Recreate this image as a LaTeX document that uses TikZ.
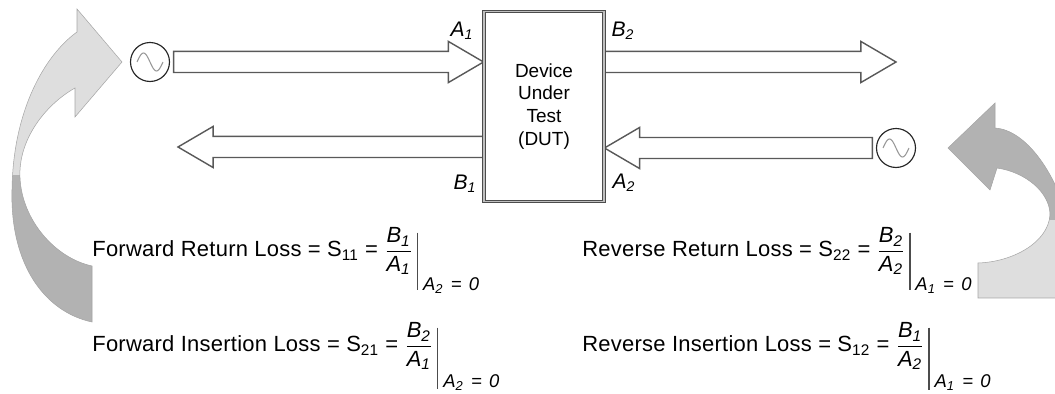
\documentclass[tikz,border=0pt]{standalone}
\usepackage{amsmath}
\usepackage{fontspec}
\setmainfont{Liberation Sans}
\newfontfamily\lossfont{Liberation Sans}[LetterSpace=1.2]
\usetikzlibrary{positioning, calc}
\tikzset{
    dut/.style={draw=black!70, double=black!25, double distance=0.7pt, line width=0.55pt, fill=white, minimum width=2.4cm, minimum height=3.8cm, align=center, font=\fontsize{10.8}{13}\selectfont}, % the device box
    source/.style={circle, draw=black!85, line width=0.65pt, fill=white, minimum size=0.78cm, inner sep=0pt}, % the two generators
    wave/.style={draw=gray!80, line width=0.6pt},
    fatarrow/.style={draw=black!65, line width=0.8pt, fill=white, line join=miter},
    swinglight/.style={fill=black!13},
    swingdark/.style={fill=black!30},
    swingedge/.style={draw=black!35, line width=0.3pt},
    port/.style={font=\fontsize{12}{14}\selectfont\itshape, inner sep=0pt},
    formula/.style={font=\lossfont\fontsize{12.5}{14}\selectfont, inner sep=0pt, anchor=base west},
    cond/.style={font=\fontsize{10.5}{12}\selectfont\itshape, inner sep=0pt, anchor=west},
    evalbar/.style={draw=black!70, line width=0.9pt}
}
\newcommand{\sig}[2]{\mbox{\rmfamily\itshape #1\textsubscript{#2}}}
\newcommand{\iseq}{\hspace{0.4em}=\hspace{0.4em}}
% wide hollow arrow, horizontal, tail at #1 and tip at #2
\newcommand{\bigarrow}[2]{%
    \draw[fatarrow] let \p1=(#1), \p2=(#2), \p3=($(\x2,\y2)!20pt!(\x1,\y1)$) in
        (\x1,{\y1+6pt}) -- (\x3,{\y1+6pt}) -- (\x3,{\y1+11.7pt})
        -- (\x2,\y1) -- (\x3,{\y1-11.7pt}) -- (\x3,{\y1-6pt})
        -- (\x1,{\y1-6pt}) -- cycle;}

\begin{document}
\begin{tikzpicture}[x=0.02cm, y=-0.02cm]
        \useasboundingbox (0,0) rectangle (1055,394);
        \clip (0,0) rectangle (1055,394);

        % curved grey arrows
        \path[save path=\swingleft] (77,32) -- (77,9) -- (122,62) -- (75,117) -- (75,88)
            .. controls (45,105) and (18,140) .. (20,178)
            .. controls (22,220) and (55,258) .. (92,266) -- (92,322)
            .. controls (45,312) and (10,265) .. (12,190)
            .. controls (13,110) and (45,55) .. (77,32) -- cycle;
        \fill[swinglight, use path=\swingleft];
        \begin{scope}
            \clip (0,176) rectangle (200,394);
            \fill[swingdark, use path=\swingleft];
        \end{scope}
        \draw[swingedge, use path=\swingleft];

        \path[save path=\swingright] (995,128) -- (995,103) -- (948,148) -- (990,190) -- (997,168)
            .. controls (1025,172) and (1050,192) .. (1050,215)
            .. controls (1048,243) and (1012,262) .. (978,263) -- (978,298) -- (1070,298) -- (1070,225)
            .. controls (1055,170) and (1025,130) .. (995,128) -- cycle;
        \fill[swinglight, use path=\swingright];
        \begin{scope}
            \clip (900,0) rectangle (1055,220);
            \fill[swingdark, use path=\swingright];
        \end{scope}
        \draw[swingedge, use path=\swingright];

        \node[source] (srcL) at (150,62) {};
        \node[source] (srcR) at (896,148) {};
        \draw[wave, shift={(srcL.center)}] plot[domain=-1:1, samples=30] ({13*\x}, {9*sin(180*\x)});
        \draw[wave, shift={(srcR.center)}] plot[domain=-1:1, samples=30] ({13*\x}, {9*sin(180*\x)});

        \coordinate (outL) at (178,147);
        \coordinate (outR) at (896,62);
        \node[dut] (dut) at (544,106.5) {Device\\Under\\Test\\(DUT)};

        \bigarrow{[xshift=2pt]srcL.east}{dut.west |- srcL}
        \bigarrow{dut.west |- outL}{outL}
        \bigarrow{dut.east |- outR}{outR}
        \bigarrow{[xshift=-2pt]srcR.west}{dut.east |- outL}

        \node[dut] (dut) at (544,106.5) {Device\\Under\\Test\\(DUT)};

        \node[port] (a1) at (462,31) {\sig{A}{1}};
        \node[port] (b1) at (465,184) {\sig{B}{1}};
        \node[port] (b2) at (623,31) {\sig{B}{2}};
        \node[port] (a2) at (624,183) {\sig{A}{2}};

        % forward
        \node[formula] (fwdret) at (92,257) {Forward Return Loss = S\textsubscript{11} = $\dfrac{\sig{B}{1}}{\sig{A}{1}}$};
        \draw[evalbar] ([xshift=2.5pt,yshift=-3pt]fwdret.north east) -- ([xshift=2.5pt,yshift=-8.5pt]fwdret.south east);
        \node[cond] (fwdretcond) at ([xshift=5.5pt,yshift=-6pt]fwdret.south east) {\sig{A}{2}\iseq0};

        \node[formula] (fwdins) at (92,352) {Forward Insertion Loss = S\textsubscript{21} = $\dfrac{\sig{B}{2}}{\sig{A}{1}}$};
        \draw[evalbar] ([xshift=2.5pt,yshift=-3pt]fwdins.north east) -- ([xshift=2.5pt,yshift=-11pt]fwdins.south east);
        \node[cond] (fwdinscond) at ([xshift=5.5pt,yshift=-7pt]fwdins.south east) {\sig{A}{2}\iseq0};

        % reverse
        \node[formula] (revret) at (582,257) {Reverse Return Loss = S\textsubscript{22} = $\dfrac{\sig{B}{2}}{\sig{A}{2}}$};
        \draw[evalbar] ([xshift=2.5pt,yshift=-3pt]revret.north east) -- ([xshift=2.5pt,yshift=-8.5pt]revret.south east);
        \node[cond] (revretcond) at ([xshift=5.5pt,yshift=-6pt]revret.south east) {\sig{A}{1}\iseq0};

        \node[formula] (revins) at (582,352) {Reverse Insertion Loss = S\textsubscript{12} = $\dfrac{\sig{B}{1}}{\sig{A}{2}}$};
        \draw[evalbar] ([xshift=2.5pt,yshift=-3pt]revins.north east) -- ([xshift=2.5pt,yshift=-11pt]revins.south east);
        \node[cond] (revinscond) at ([xshift=5.5pt,yshift=-7pt]revins.south east) {\sig{A}{1}\iseq0};

    \end{tikzpicture}
\end{document}
